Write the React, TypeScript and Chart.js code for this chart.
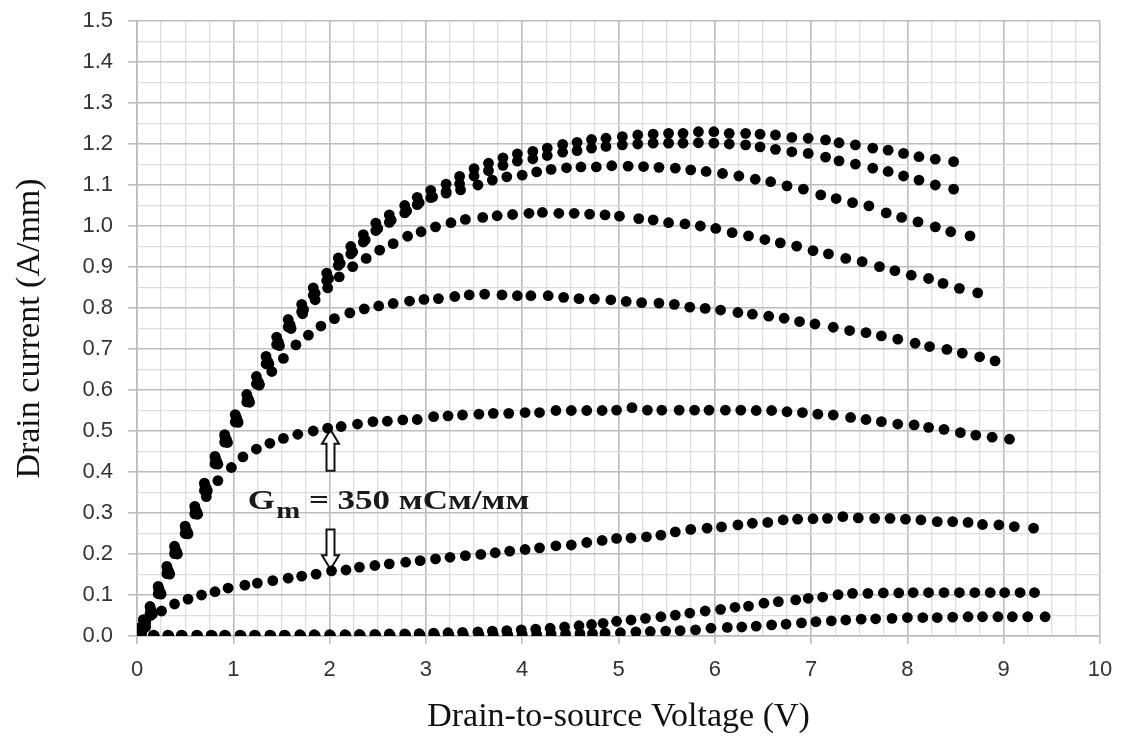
import React, { useEffect, useRef } from 'react';
import { Chart, registerables } from 'chart.js';

Chart.register(...registerables);

const X_MIN = 0;
const X_MAX = 10;
const X_MAJOR = 1;
const X_MINOR = 0.25;
const Y_MIN = 0;
const Y_MAX = 1.5;
const Y_MAJOR = 0.1;
const Y_MINOR = 0.05;

const xTitle = 'Drain-to-source Voltage (V)';
const yTitle = 'Drain current (A/mm)';

// Vds (V), Id (A/mm) — one array per gate-voltage step, top curve first
const curve1: [number, number][] = [
  [0, 0], [0.03, 0.02], [0.066, 0.04], [0.135, 0.072], [0.22, 0.121], [0.31, 0.17], [0.39, 0.219], [0.5, 0.268],
  [0.6, 0.316], [0.7, 0.373], [0.81, 0.438], [0.91, 0.491], [1.02, 0.54], [1.14, 0.589], [1.24, 0.633], [1.34, 0.682],
  [1.45, 0.729], [1.57, 0.772], [1.71, 0.809], [1.83, 0.849], [1.97, 0.885], [2.09, 0.922], [2.22, 0.95], [2.35, 0.979],
  [2.48, 1.007], [2.62, 1.027], [2.78, 1.05], [2.91, 1.07], [3.05, 1.087], [3.21, 1.102], [3.35, 1.121], [3.5, 1.14],
  [3.65, 1.153], [3.8, 1.166], [3.95, 1.176], [4.11, 1.182], [4.26, 1.19], [4.42, 1.199], [4.57, 1.204], [4.72, 1.211],
  [4.87, 1.214], [5.04, 1.218], [5.2, 1.222], [5.36, 1.224], [5.52, 1.226], [5.67, 1.226], [5.83, 1.23], [5.99, 1.23],
  [6.15, 1.226], [6.32, 1.226], [6.47, 1.224], [6.63, 1.222], [6.8, 1.216], [6.97, 1.214], [7.15, 1.21], [7.29, 1.203],
  [7.46, 1.198], [7.64, 1.19], [7.8, 1.185], [7.96, 1.177], [8.12, 1.169], [8.29, 1.163], [8.48, 1.157],
];

const curve2: [number, number][] = [
  [0, 0], [0.03, 0.004], [0.066, 0.022], [0.135, 0.054], [0.22, 0.103], [0.31, 0.152], [0.39, 0.201], [0.5, 0.25],
  [0.6, 0.298], [0.7, 0.355], [0.81, 0.42], [0.91, 0.473], [1.02, 0.522], [1.14, 0.571], [1.24, 0.615], [1.34, 0.664],
  [1.45, 0.711], [1.57, 0.754], [1.71, 0.791], [1.83, 0.831], [1.97, 0.867], [2.09, 0.904], [2.22, 0.932], [2.35, 0.961],
  [2.48, 0.989], [2.62, 1.009], [2.78, 1.032], [2.91, 1.052], [3.05, 1.069], [3.21, 1.084], [3.35, 1.103], [3.5, 1.122],
  [3.65, 1.135], [3.8, 1.148], [3.95, 1.158], [4.11, 1.164], [4.26, 1.172], [4.42, 1.18], [4.57, 1.184], [4.72, 1.19],
  [4.87, 1.194], [5.04, 1.198], [5.2, 1.2], [5.36, 1.202], [5.52, 1.202], [5.67, 1.202], [5.83, 1.203], [5.99, 1.202],
  [6.15, 1.2], [6.32, 1.198], [6.47, 1.193], [6.63, 1.187], [6.8, 1.181], [6.97, 1.177], [7.15, 1.168], [7.29, 1.159],
  [7.46, 1.151], [7.64, 1.141], [7.8, 1.133], [7.96, 1.122], [8.12, 1.112], [8.29, 1.1], [8.48, 1.09],
];

const curve3: [number, number][] = [
  [0, 0], [0.05, 0.008], [0.086, 0.027], [0.155, 0.059], [0.24, 0.108], [0.33, 0.157], [0.41, 0.206], [0.52, 0.255],
  [0.62, 0.303], [0.72, 0.36], [0.83, 0.425], [0.93, 0.478], [1.04, 0.527], [1.16, 0.576], [1.26, 0.62], [1.36, 0.669],
  [1.47, 0.716], [1.59, 0.759], [1.73, 0.796], [1.85, 0.836], [1.99, 0.872], [2.11, 0.909], [2.24, 0.937], [2.37, 0.966],
  [2.5, 0.994], [2.64, 1.014], [2.8, 1.037], [2.93, 1.057], [3.07, 1.071], [3.21, 1.08], [3.36, 1.088], [3.54, 1.1],
  [3.69, 1.112], [3.84, 1.12], [4.0, 1.124], [4.15, 1.132], [4.3, 1.138], [4.46, 1.142], [4.61, 1.144], [4.77, 1.144],
  [4.93, 1.147], [5.1, 1.146], [5.26, 1.145], [5.42, 1.143], [5.59, 1.141], [5.75, 1.137], [5.91, 1.133], [6.08, 1.128],
  [6.25, 1.122], [6.42, 1.114], [6.58, 1.108], [6.75, 1.098], [6.92, 1.09], [7.1, 1.076], [7.26, 1.067], [7.43, 1.057],
  [7.6, 1.049], [7.78, 1.032], [7.94, 1.021], [8.11, 1.01], [8.29, 0.998], [8.45, 0.986], [8.65, 0.976],
];

const curve4: [number, number][] = [
  [0, 0], [0.04, 0.004], [0.09, 0.022], [0.16, 0.053], [0.25, 0.102], [0.34, 0.151], [0.42, 0.2], [0.53, 0.249],
  [0.63, 0.297], [0.73, 0.354], [0.84, 0.419], [0.94, 0.472], [1.05, 0.521], [1.17, 0.57], [1.27, 0.614], [1.37, 0.663],
  [1.48, 0.708], [1.6, 0.75], [1.72, 0.786], [1.85, 0.82], [1.98, 0.849], [2.1, 0.876], [2.24, 0.901], [2.38, 0.921],
  [2.52, 0.941], [2.66, 0.957], [2.81, 0.975], [2.95, 0.986], [3.1, 0.998], [3.26, 1.008], [3.41, 1.016], [3.59, 1.021],
  [3.74, 1.025], [3.9, 1.028], [4.07, 1.031], [4.21, 1.033], [4.38, 1.031], [4.54, 1.031], [4.7, 1.029], [4.86, 1.027],
  [5.01, 1.024], [5.21, 1.018], [5.36, 1.015], [5.52, 1.008], [5.69, 1.005], [5.85, 1.0], [6.01, 0.994], [6.18, 0.984],
  [6.35, 0.976], [6.52, 0.967], [6.68, 0.959], [6.85, 0.951], [7.02, 0.94], [7.18, 0.932], [7.36, 0.921], [7.53, 0.913],
  [7.71, 0.901], [7.87, 0.891], [8.04, 0.88], [8.22, 0.872], [8.37, 0.86], [8.54, 0.848], [8.73, 0.837],
];

const curve5: [number, number][] = [
  [0, 0], [0.03, 0.014], [0.07, 0.035], [0.14, 0.066], [0.225, 0.115], [0.315, 0.164], [0.395, 0.213], [0.505, 0.262],
  [0.605, 0.31], [0.705, 0.367], [0.815, 0.432], [0.915, 0.485], [1.03, 0.534], [1.15, 0.58], [1.27, 0.612], [1.4, 0.645],
  [1.52, 0.677], [1.65, 0.71], [1.78, 0.734], [1.91, 0.756], [2.05, 0.774], [2.21, 0.788], [2.36, 0.798], [2.51, 0.805],
  [2.66, 0.811], [2.83, 0.817], [2.98, 0.821], [3.13, 0.823], [3.3, 0.828], [3.45, 0.832], [3.61, 0.834], [3.79, 0.832],
  [3.95, 0.83], [4.09, 0.83], [4.27, 0.83], [4.43, 0.826], [4.59, 0.823], [4.75, 0.822], [4.92, 0.82], [5.08, 0.816],
  [5.24, 0.813], [5.42, 0.812], [5.58, 0.809], [5.74, 0.802], [5.9, 0.799], [6.06, 0.795], [6.24, 0.789], [6.39, 0.785],
  [6.56, 0.78], [6.72, 0.775], [6.88, 0.767], [7.04, 0.761], [7.23, 0.753], [7.4, 0.745], [7.57, 0.74], [7.73, 0.732],
  [7.9, 0.724], [8.08, 0.714], [8.23, 0.706], [8.41, 0.699], [8.57, 0.69], [8.75, 0.681], [8.91, 0.671],
];

const curve6: [number, number][] = [
  [0, 0], [0.04, 0.01], [0.08, 0.028], [0.15, 0.058], [0.235, 0.106], [0.325, 0.155], [0.405, 0.203], [0.515, 0.25],
  [0.615, 0.298], [0.72, 0.34], [0.84, 0.379], [0.98, 0.411], [1.1, 0.437], [1.24, 0.456], [1.38, 0.47], [1.52, 0.482],
  [1.67, 0.492], [1.83, 0.5], [1.98, 0.507], [2.12, 0.511], [2.29, 0.517], [2.45, 0.523], [2.6, 0.524], [2.76, 0.527],
  [2.91, 0.528], [3.08, 0.535], [3.23, 0.537], [3.38, 0.539], [3.55, 0.541], [3.7, 0.543], [3.86, 0.543], [4.03, 0.545],
  [4.18, 0.545], [4.35, 0.55], [4.51, 0.55], [4.67, 0.55], [4.83, 0.55], [4.98, 0.551], [5.14, 0.557], [5.3, 0.551],
  [5.45, 0.551], [5.63, 0.551], [5.79, 0.551], [5.94, 0.551], [6.11, 0.551], [6.27, 0.551], [6.43, 0.55], [6.59, 0.55],
  [6.75, 0.547], [6.91, 0.545], [7.07, 0.541], [7.23, 0.539], [7.41, 0.533], [7.57, 0.528], [7.73, 0.523], [7.9, 0.517],
  [8.07, 0.515], [8.22, 0.509], [8.38, 0.504], [8.55, 0.496], [8.71, 0.49], [8.88, 0.485], [9.06, 0.48],
];

const curve7: [number, number][] = [
  [0, 0], [0.04, 0.015], [0.09, 0.035], [0.14, 0.05], [0.255, 0.061], [0.39, 0.078], [0.53, 0.09], [0.67, 0.1],
  [0.81, 0.108], [0.946, 0.117], [1.12, 0.124], [1.25, 0.129], [1.41, 0.135], [1.57, 0.141], [1.71, 0.146], [1.86, 0.151],
  [2.02, 0.159], [2.17, 0.161], [2.31, 0.168], [2.47, 0.172], [2.62, 0.176], [2.79, 0.18], [2.94, 0.184], [3.1, 0.188],
  [3.25, 0.192], [3.41, 0.196], [3.57, 0.199], [3.72, 0.203], [3.87, 0.207], [4.03, 0.211], [4.18, 0.215], [4.35, 0.22],
  [4.51, 0.222], [4.67, 0.228], [4.83, 0.233], [4.98, 0.238], [5.13, 0.239], [5.29, 0.242], [5.44, 0.246], [5.59, 0.254],
  [5.75, 0.26], [5.92, 0.263], [6.07, 0.266], [6.24, 0.271], [6.39, 0.275], [6.55, 0.277], [6.71, 0.283], [6.86, 0.285],
  [7.02, 0.286], [7.17, 0.287], [7.33, 0.291], [7.49, 0.288], [7.66, 0.287], [7.82, 0.287], [7.98, 0.285], [8.14, 0.283],
  [8.31, 0.279], [8.47, 0.279], [8.63, 0.277], [8.78, 0.272], [8.95, 0.271], [9.11, 0.267], [9.31, 0.263],
];

const curve8: [number, number][] = [
  [0, 0], [0.03, 0.002], [0.17, 0.002], [0.32, 0.002], [0.46, 0.002], [0.62, 0.002], [0.77, 0.002], [0.91, 0.002],
  [1.07, 0.002], [1.22, 0.002], [1.38, 0.002], [1.53, 0.002], [1.69, 0.003], [1.84, 0.003], [2.0, 0.003], [2.16, 0.003],
  [2.31, 0.004], [2.47, 0.004], [2.62, 0.005], [2.78, 0.005], [2.93, 0.006], [3.08, 0.007], [3.23, 0.008], [3.38, 0.009],
  [3.54, 0.01], [3.69, 0.012], [3.84, 0.013], [3.99, 0.015], [4.14, 0.017], [4.29, 0.019], [4.44, 0.022], [4.59, 0.025],
  [4.72, 0.028], [4.84, 0.031], [4.98, 0.036], [5.13, 0.039], [5.28, 0.043], [5.44, 0.047], [5.59, 0.051], [5.74, 0.056],
  [5.9, 0.061], [6.06, 0.065], [6.21, 0.07], [6.35, 0.073], [6.51, 0.08], [6.66, 0.084], [6.84, 0.088], [6.97, 0.092],
  [7.12, 0.095], [7.28, 0.101], [7.43, 0.104], [7.59, 0.104], [7.75, 0.105], [7.91, 0.105], [8.06, 0.106], [8.22, 0.106],
  [8.38, 0.106], [8.54, 0.106], [8.7, 0.106], [8.86, 0.106], [9.01, 0.106], [9.17, 0.106], [9.32, 0.106],
];

const curve9: [number, number][] = [
  [0, 0], [0.04, 0.001], [0.18, 0.001], [0.33, 0.001], [0.47, 0.001], [0.63, 0.001], [0.78, 0.001], [0.92, 0.001],
  [1.08, 0.001], [1.23, 0.001], [1.39, 0.001], [1.54, 0.001], [1.7, 0.001], [1.85, 0.001], [2.01, 0.001], [2.17, 0.001],
  [2.32, 0.001], [2.48, 0.001], [2.63, 0.001], [2.79, 0.002], [2.94, 0.002], [3.09, 0.002], [3.24, 0.002], [3.39, 0.002],
  [3.55, 0.003], [3.7, 0.003], [3.85, 0.003], [4.0, 0.004], [4.15, 0.004], [4.3, 0.005], [4.45, 0.005], [4.6, 0.006],
  [4.73, 0.006], [4.86, 0.007], [5.02, 0.008], [5.18, 0.01], [5.33, 0.011], [5.49, 0.012], [5.64, 0.013], [5.8, 0.015],
  [5.96, 0.019], [6.13, 0.021], [6.28, 0.022], [6.43, 0.024], [6.59, 0.027], [6.74, 0.029], [6.9, 0.032], [7.05, 0.035],
  [7.21, 0.037], [7.36, 0.039], [7.52, 0.041], [7.67, 0.042], [7.84, 0.043], [8.0, 0.045], [8.16, 0.045], [8.31, 0.045],
  [8.47, 0.046], [8.63, 0.047], [8.78, 0.047], [8.94, 0.047], [9.09, 0.047], [9.25, 0.047], [9.43, 0.047],
];

const curves = [curve1, curve2, curve3, curve4, curve5, curve6, curve7, curve8, curve9];

// Transconductance note and the two arrows (data coordinates)
const gmMain = 'G';
const gmSub = 'm';
const gmRest = ' = 350 мСм/мм';
const gmAnchor = { x: 1.15, y: 0.31 };
const arrowUp = { x: 2, from: 0.403, to: 0.503 };
const arrowDown = { x: 2, from: 0.26, to: 0.163 };

const MAJOR_GRID = 'rgb(188,188,188)';
const MINOR_GRID = 'rgb(221,221,221)';

function onStep(v: number, step: number) {
  const r = v / step;
  return Math.abs(r - Math.round(r)) < 1e-6;
}

const gmPlugin = {
  id: 'gmAnnotation',
  beforeDatasetsDraw(chart: any) {
    const { ctx, scales } = chart;
    const xs = scales.x;
    const ys = scales.y;
    const draw = (a: { x: number; from: number; to: number }) => {
      const px = Math.round(xs.getPixelForValue(a.x)) + 0.5;
      const p0 = ys.getPixelForValue(a.from);
      const p1 = ys.getPixelForValue(a.to);
      const dir = Math.sign(p1 - p0);
      const headLen = 14;
      const headHalf = 8.5;
      const shaftHalf = 4;
      const hb = p1 - dir * headLen;
      ctx.save();
      ctx.beginPath();
      ctx.moveTo(px - shaftHalf, p0);
      ctx.lineTo(px - shaftHalf, hb);
      ctx.lineTo(px - headHalf, hb);
      ctx.lineTo(px, p1);
      ctx.lineTo(px + headHalf, hb);
      ctx.lineTo(px + shaftHalf, hb);
      ctx.lineTo(px + shaftHalf, p0);
      ctx.closePath();
      ctx.fillStyle = '#ffffff';
      ctx.fill();
      ctx.lineWidth = 2;
      ctx.strokeStyle = '#111';
      ctx.stroke();
      ctx.restore();
    };
    draw(arrowUp);
    draw(arrowDown);
  },
  afterDatasetsDraw(chart: any) {
    const { ctx, scales } = chart;
    const x0 = scales.x.getPixelForValue(gmAnchor.x);
    const y0 = scales.y.getPixelForValue(gmAnchor.y);
    ctx.save();
    ctx.translate(x0, y0);
    ctx.scale(1.25, 1);
    ctx.fillStyle = '#1a1a1a';
    ctx.textBaseline = 'alphabetic';
    ctx.textAlign = 'left';
    ctx.font = 'bold 28px "Liberation Serif", "DejaVu Serif", serif';
    ctx.fillText(gmMain, 0, 0);
    let w = ctx.measureText(gmMain).width;
    ctx.font = 'bold 23px "Liberation Serif", "DejaVu Serif", serif';
    ctx.fillText(gmSub, w + 1, 9);
    w += 1 + ctx.measureText(gmSub).width;
    ctx.font = 'bold 28px "Liberation Serif", "DejaVu Serif", serif';
    ctx.fillText(gmRest, w, 0);
    ctx.restore();
  },
};

export default function App() {
  const ref = useRef<HTMLCanvasElement | null>(null);

  useEffect(() => {
    if (!ref.current) return;
    const datasets = curves.map((c, i) => ({
      label: `Vg ${i + 1}`,
      data: c.map(([x, y]) => ({ x, y })),
      backgroundColor: '#000',
      borderColor: '#000',
      pointRadius: 5.4,
      pointBorderWidth: 0,
      pointHoverRadius: 5.4,
      showLine: false,
    }));

    const chart = new Chart(ref.current, {
      type: 'scatter',
      data: { datasets },
      plugins: [gmPlugin],
      options: {
        animation: false,
        responsive: false,
        maintainAspectRatio: false,
        layout: { padding: { top: 13, right: 22, bottom: 0, left: 0 } },
        plugins: {
          legend: { display: false },
          tooltip: { enabled: false },
        },
        scales: {
          x: {
            type: 'linear',
            min: X_MIN,
            max: X_MAX,
            afterFit: (s: any) => {
              s.height = 98;
              s.paddingLeft = 0;
              s.paddingRight = 0;
            },
            ticks: {
              stepSize: X_MINOR,
              autoSkip: false,
              maxRotation: 0,
              padding: 13,
              color: '#333',
              font: { family: '"Liberation Sans", Arial, sans-serif', size: 22 },
              callback: (v: any) => (onStep(Number(v), X_MAJOR) ? String(Math.round(Number(v))) : ''),
            },
            grid: {
              color: (c: any) => (c.tick && onStep(c.tick.value, X_MAJOR) ? MAJOR_GRID : MINOR_GRID),
              tickColor: (c: any) => (c.tick && onStep(c.tick.value, X_MAJOR) ? MAJOR_GRID : 'rgba(0,0,0,0)'),
              lineWidth: (c: any) => (c.tick && onStep(c.tick.value, X_MAJOR) ? 1.6 : 1.3),
              tickLength: 8,
            },
            border: { display: true, color: MAJOR_GRID, width: 1.6 },
            title: {
              display: true,
              text: xTitle,
              color: '#111',
              font: { family: '"Liberation Serif", "Times New Roman", serif', size: 34, lineHeight: 1 },
              padding: { top: 0, bottom: 0 },
            },
          },
          y: {
            type: 'linear',
            min: Y_MIN,
            max: Y_MAX,
            afterFit: (s: any) => {
              s.width = 129;
              s.paddingTop = 0;
              s.paddingBottom = 0;
            },
            ticks: {
              stepSize: Y_MINOR,
              autoSkip: false,
              padding: 15,
              color: '#333',
              font: { family: '"Liberation Sans", Arial, sans-serif', size: 22 },
              callback: (v: any) => (onStep(Number(v), Y_MAJOR) ? Number(v).toFixed(1) : ''),
            },
            grid: {
              color: (c: any) => (c.tick && onStep(c.tick.value, Y_MAJOR) ? MAJOR_GRID : MINOR_GRID),
              tickColor: (c: any) => (c.tick && onStep(c.tick.value, Y_MAJOR) ? MAJOR_GRID : 'rgba(0,0,0,0)'),
              lineWidth: (c: any) => (c.tick && onStep(c.tick.value, Y_MAJOR) ? 1.6 : 1.3),
              tickLength: 9,
            },
            border: { display: true, color: MAJOR_GRID, width: 1.6 },
            title: {
              display: true,
              text: yTitle,
              color: '#111',
              font: { family: '"Liberation Serif", "Times New Roman", serif', size: 34, lineHeight: 1 },
              padding: { top: 5, bottom: 0 },
            },
          },
        },
      } as any,
    });
    return () => chart.destroy();
  }, []);

  return (
    <div style={{ width: 1114, height: 726 }}>
      <canvas ref={ref} width={1114} height={726} style={{ display: 'block' }} />
    </div>
  );
}
